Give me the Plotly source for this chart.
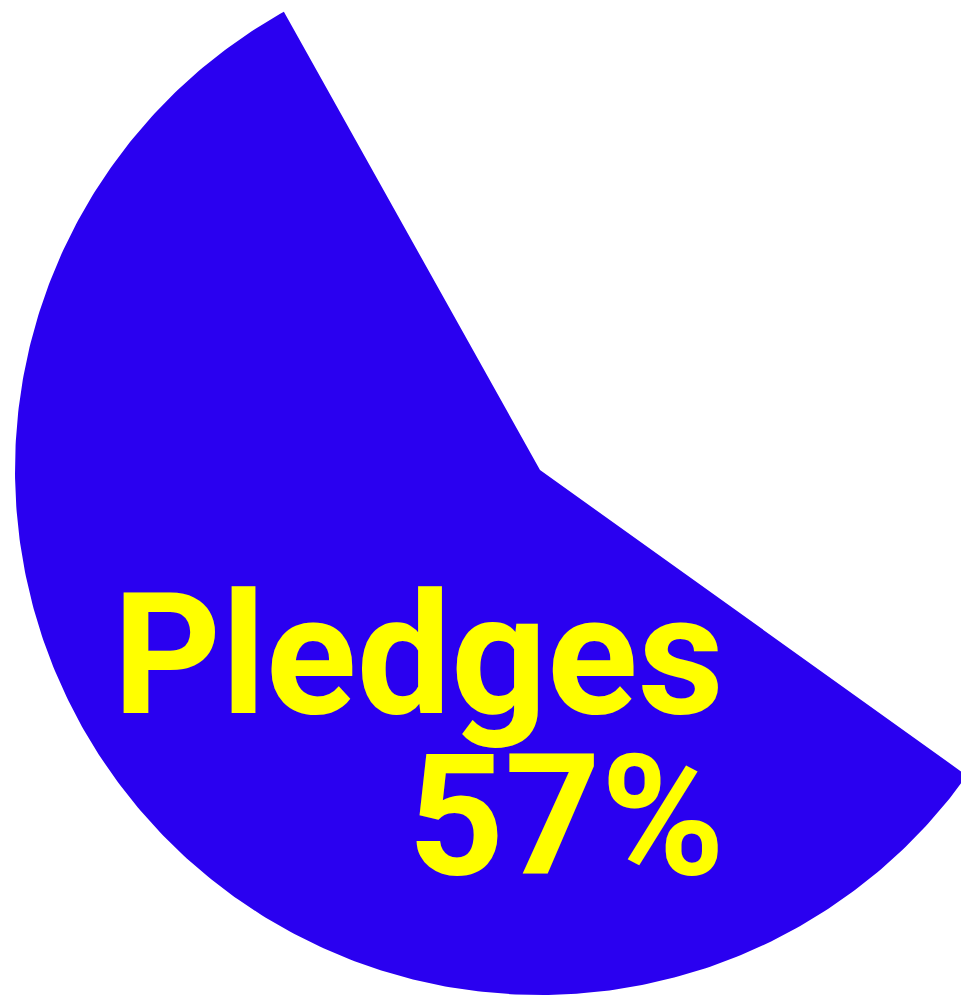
import numpy as np
import plotly.graph_objects as go

# ---- data ----
labels = ["Pledges", "Other"]
values = [57, 43]
colors = ["#2a00f0", "rgba(255,255,255,0)"]

# ---- style / layout parameters ----
OFF = 8                            # page body margin of the html page
W, H = 969 - OFF, 998 - OFF
CX, CY, R = 540 - OFF, 470 - OFF, 525   # pie centre / radius in figure pixels
START_DEG = 119.2                  # angle where the first slice starts (math degrees)

total = float(sum(values))
fig = go.Figure()

start = np.radians(START_DEG)
for lab, val, col in zip(labels, values, colors):
    span = 2 * np.pi * val / total
    t = np.linspace(start, start + span, 400)
    xs = np.concatenate([[0.0], np.cos(t), [0.0]])
    ys = np.concatenate([[0.0], np.sin(t), [0.0]])
    fig.add_trace(go.Scatter(
        x=xs, y=ys, mode="lines", fill="toself",
        fillcolor=col, line=dict(width=0, color=col),
        name=lab, hoverinfo="name", showlegend=False,
    ))
    start += span

# axis ranges chosen so the unit circle lands where the reference draws it
x_range = [(0 - CX) / R, (W - CX) / R]
y_range = [(CY - H) / R, (CY - 0) / R]

font = dict(family="Roboto, Liberation Sans, Arial, sans-serif", size=168, color="#ffff00")
pct = round(100 * values[0] / total)
fig.add_annotation(text="<b>%s</b>" % labels[0], xref="paper", yref="paper",
                   x=(726 - OFF) / W, y=1 - (655 - OFF) / H, xanchor="right", yanchor="middle",
                   showarrow=False, font=font)
fig.add_annotation(text="<b>%d%%</b>" % pct, xref="paper", yref="paper",
                   x=(727 - OFF) / W, y=1 - (816 - OFF) / H, xanchor="right", yanchor="middle",
                   showarrow=False, font=font)

fig.update_layout(
    width=W, height=H, autosize=False,
    margin=dict(l=0, r=0, t=0, b=0, pad=0),
    paper_bgcolor="white", plot_bgcolor="white",
    xaxis=dict(range=x_range, visible=False, fixedrange=True),
    yaxis=dict(range=y_range, visible=False, fixedrange=True),
)

fig.write_html("out.html", config={"displayModeBar": False})
